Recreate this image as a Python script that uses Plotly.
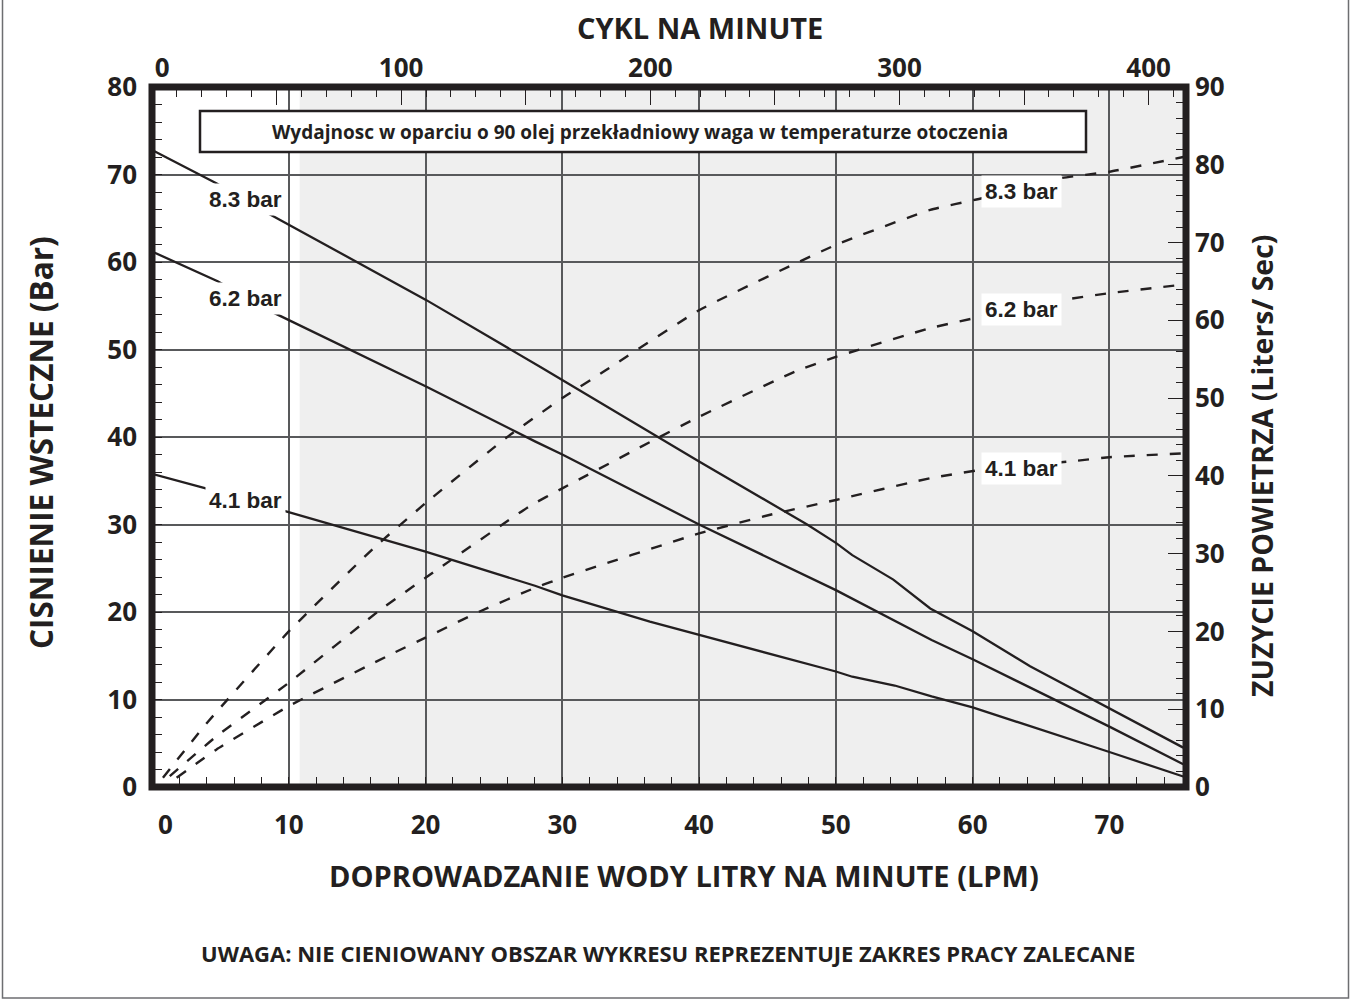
import plotly.graph_objects as go

# ---- Back pressure (bar) vs water flow (LPM), one curve per inlet air pressure ----
P83_X = [0, 4.7, 8.2, 20, 28.4, 37, 40, 47.9, 50, 51.2, 54.2, 56.9, 60, 64.2, 70, 75.4]
P83_Y = [72.8, 69.0, 65.8, 55.7, 48.0, 40.0, 37.2, 30.0, 27.9, 26.5, 23.7, 20.4, 17.8, 13.8, 9.0, 4.5]

P62_X = [0, 4.8, 8.5, 20, 28, 30, 40, 50, 57, 60, 70, 75.4]
P62_Y = [61.2, 57.8, 54.5, 45.8, 39.5, 38.0, 30.0, 22.5, 16.8, 14.6, 6.9, 2.6]

P41_X = [0, 4.0, 9.8, 20, 28, 30, 36.4, 40, 50, 51.2, 54.3, 57, 60, 70, 75.4]
P41_Y = [35.8, 34.1, 31.5, 26.9, 23.0, 21.9, 18.9, 17.4, 13.2, 12.6, 11.6, 10.35, 9.1, 4.0, 1.2]

# ---- Air consumption (liters/sec) vs water flow (LPM) ----
A83_X = [0.8, 4, 10, 16.2, 20, 25.9, 30, 33.2, 40, 50, 56.9, 60.7, 66.5, 70, 75.4]
A83_Y = [1.2, 8.2, 20.0, 30.7, 36.5, 44.9, 50.0, 53.6, 61.3, 69.7, 74.2, 75.7, 78.3, 79.1, 81.0]

A62_X = [1.3, 4.7, 10, 16.7, 20, 27.6, 30, 37, 40, 47, 50, 56.9, 60.7, 66.5, 70, 75.4]
A62_Y = [1.4, 6.5, 13.4, 22.8, 26.9, 36.1, 38.4, 44.9, 47.6, 53.4, 55.3, 59.0, 60.5, 62.6, 63.5, 64.6]

A41_X = [1.8, 4.7, 10, 17.4, 20, 24, 28, 30, 40, 45.2, 50, 56.9, 60.7, 67.4, 70, 75.4]
A41_Y = [1.2, 4.8, 10.4, 17.0, 19.2, 22.6, 25.6, 26.9, 32.6, 35.0, 36.9, 39.7, 40.8, 41.9, 42.4, 42.9]

SERIES_NAMES = ["8.3 bar", "6.2 bar", "4.1 bar"]

# Axis ticks
LPM_TICKS = [0, 10, 20, 30, 40, 50, 60, 70]
BAR_TICKS = [0, 10, 20, 30, 40, 50, 60, 70, 80]
LPS_TICKS = [0, 10, 20, 30, 40, 50, 60, 70, 80, 90]
CYCLE_TICKS = [0, 50, 100, 150, 200, 250, 300, 350, 400]
CYCLE_LABELS = ["0", "", "100", "", "200", "", "300", "", "400"]

# Flow above this value lies outside the recommended operating range (shaded)
SHADE_START = 10.8

# Axis extents
X_MAX = 75.6
Y_MAX = 80
Y2_MAX = 90
CYC_MAX = 415

# ---- styling ----
INK = "#231f20"
GRID = "#58595b"
SHADE = "#efefef"
FONT = "Open Sans"
NARROW = "Liberation Sans Narrow, Arial Narrow, Liberation Sans, sans-serif"

W, H = 1351, 1001
ML, MR, MT, MB = 152, 165, 87, 214
PW, PH = W - ML - MR, H - MT - MB


def px_x(px):
    """Pixel column -> paper x."""
    return (px - ML) / PW


def px_y(py):
    """Pixel row -> paper y."""
    return (H - MB - py) / PH


def nb(label, n):
    """Pad a tick label on the left with non-breaking spaces."""
    return "\u00a0" * n + label


fig = go.Figure()

for xs, ys, name in zip([P83_X, P62_X, P41_X], [P83_Y, P62_Y, P41_Y], SERIES_NAMES):
    fig.add_trace(go.Scatter(
        x=xs, y=ys, mode="lines", name=name, showlegend=False, hoverinfo="skip",
        line=dict(color=INK, width=2.3),
    ))

for xs, ys, name in zip([A83_X, A62_X, A41_X], [A83_Y, A62_Y, A41_Y], SERIES_NAMES):
    fig.add_trace(go.Scatter(
        x=xs, y=ys, mode="lines", name=name, yaxis="y2", showlegend=False, hoverinfo="skip",
        line=dict(color=INK, width=2.4, dash="11px,12px", shape="spline", smoothing=0.4),
    ))

# empty trace so the cycles axis is drawn along the top
fig.add_trace(go.Scatter(x=[], y=[], xaxis="x2", yaxis="y", showlegend=False, hoverinfo="skip"))

tickfont = dict(family=FONT, size=26, color=INK, weight="bold")
minor_common = dict(ticks="inside", tickcolor=INK, tickwidth=1.3, showgrid=False)

fig.update_layout(
    width=W, height=H,
    margin=dict(l=ML, r=MR, t=MT, b=MB, autoexpand=False),
    paper_bgcolor="white", plot_bgcolor="white",
    showlegend=False,
    xaxis=dict(
        range=[0, X_MAX], tickmode="array", tickvals=LPM_TICKS,
        ticktext=[nb("0", 4)] + [str(v) for v in LPM_TICKS[1:]],
        ticks="", showgrid=True, gridcolor=GRID, gridwidth=1.5,
        zeroline=False, showline=False, tickfont=tickfont, ticklabelstandoff=20,
        minor=dict(tickmode="linear", tick0=0, dtick=2, ticklen=10, **minor_common),
        fixedrange=True,
    ),
    xaxis2=dict(
        range=[0, CYC_MAX], overlaying="x", side="top", anchor="y",
        tickmode="array", tickvals=CYCLE_TICKS,
        ticktext=[nb(CYCLE_LABELS[0], 3)] + CYCLE_LABELS[1:],
        ticks="inside", ticklen=18, tickcolor=INK, tickwidth=1.3,
        showgrid=False, zeroline=False, showline=False, tickfont=tickfont,
        ticklabelstandoff=4,
        minor=dict(tickmode="linear", tick0=0, dtick=10, ticklen=10, **minor_common),
        fixedrange=True,
    ),
    yaxis=dict(
        range=[0, Y_MAX], tickmode="array", tickvals=BAR_TICKS,
        ticks="", showgrid=True, gridcolor=GRID, gridwidth=1.5,
        zeroline=False, showline=False, tickfont=tickfont, ticklabelstandoff=14,
        minor=dict(tickmode="linear", tick0=0, dtick=2, ticklen=10, **minor_common),
        fixedrange=True,
    ),
    yaxis2=dict(
        range=[0, Y2_MAX], overlaying="y", side="right", anchor="x",
        tickmode="array", tickvals=LPS_TICKS,
        ticks="inside", ticklen=18, tickcolor=INK, tickwidth=1.3,
        showgrid=False, zeroline=False, showline=False, tickfont=tickfont,
        ticklabelstandoff=8,
        minor=dict(tickmode="linear", tick0=0, dtick=2, ticklen=10, **minor_common),
        fixedrange=True,
    ),
)

shapes = [
    # shaded (non-recommended) operating region
    dict(type="rect", xref="x", yref="y", x0=SHADE_START, x1=X_MAX, y0=0, y1=Y_MAX,
         fillcolor=SHADE, line=dict(width=0), layer="below"),
    # box behind the test-condition note
    dict(type="rect", xref="paper", yref="paper",
         x0=px_x(200), x1=px_x(1086), y0=px_y(152), y1=px_y(111),
         fillcolor="white", line=dict(color=INK, width=2.5), layer="above"),
    # heavy frame around the plotting area
    dict(type="rect", xref="paper", yref="paper", x0=0, x1=1, y0=0, y1=1,
         line=dict(color=INK, width=7), layer="above"),
    # thin border around the whole figure
    dict(type="rect", xref="paper", yref="paper",
         x0=px_x(2.5), x1=px_x(1348.5), y0=px_y(998), y1=px_y(-3),
         line=dict(color="#6d6e71", width=1.5), layer="above"),
]
fig.update_layout(shapes=shapes)

annotations = []


def text(x, y, s, size, xref="paper", yref="paper", angle=0, family=FONT, bg=None, pad=0):
    annotations.append(dict(
        x=x, y=y, xref=xref, yref=yref, text=s, showarrow=False,
        xanchor="center", yanchor="middle", textangle=angle,
        font=dict(family=family, size=size, color=INK, weight="bold"),
        bgcolor=bg, borderpad=pad,
    ))


# axis titles and notes
text(px_x(700), px_y(28), "CYKL NA MINUTE", 29)
text(px_x(684), px_y(875), "DOPROWADZANIE WODY LITRY NA MINUTE (LPM)", 29)
text(px_x(40), px_y(443), "CISNIENIE WSTECZNE (Bar)", 31.5, angle=-90)
text(px_x(1262), px_y(466), "ZUZYCIE POWIETRZA (Liters/ Sec)", 28.5, angle=-90)
text(px_x(668), px_y(953), "UWAGA: NIE CIENIOWANY OBSZAR WYKRESU REPREZENTUJE ZAKRES PRACY ZALECANE", 22)
text(px_x(640), px_y(131.5),
     "Wydajnosc w oparciu o 90 olej przekładniowy waga w temperaturze otoczenia", 19)

# curve labels: back-pressure curves on the left, air-consumption curves on the right
for name, yv in zip(SERIES_NAMES, [67.2, 55.8, 32.7]):
    text(6.87, yv, name, 22.5, xref="x", yref="y", family=NARROW, bg="white", pad=3)
for name, yv in zip(SERIES_NAMES, [76.6, 61.4, 41.0]):
    text(63.6, yv, name, 22.5, xref="x", yref="y2", family=NARROW, bg="white", pad=3)

fig.update_layout(annotations=annotations)

fig.write_html("out.html")
